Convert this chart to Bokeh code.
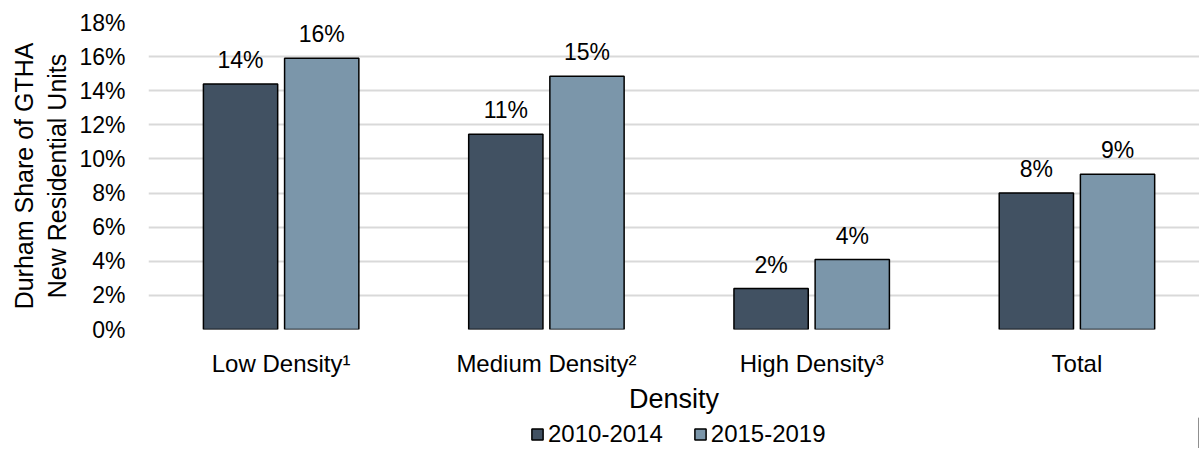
from bokeh.plotting import figure
from bokeh.layouts import column
from bokeh.models import (ColumnDataSource, Range1d, FixedTicker, PrintfTickFormatter,
                          Legend, LegendItem)
from bokeh.core.properties import value
from bokeh.embed import file_html
from bokeh.resources import INLINE

categories = ["Low Density\u00b9", "Medium Density\u00b2", "High Density\u00b3", "Total"]
series_names = ["2010-2014", "2015-2019"]
share_2010_2014 = [14.4, 11.45, 2.4, 8.0]
share_2015_2019 = [15.9, 14.85, 4.1, 9.1]
y_ticks = [0, 2, 4, 6, 8, 10, 12, 14, 16, 18]

FONT = "Liberation Sans"
DARK = "#415162"
LIGHT = "#7b96aa"

centers = [i + 0.5 for i in range(len(categories))]
off = 0.153
bw = 0.28

src1 = ColumnDataSource(dict(x=[c - off for c in centers], top=share_2010_2014,
                             lab=[f"{round(v):d}%" for v in share_2010_2014]))
src2 = ColumnDataSource(dict(x=[c + off for c in centers], top=share_2015_2019,
                             lab=[f"{round(v):d}%" for v in share_2015_2019]))

p = figure(width=1199, height=417, output_backend="svg", toolbar_location=None,
           x_range=Range1d(0.0, 3.962), y_range=Range1d(0, 18),
           min_border_left=148, min_border_right=0, min_border_top=22,
           min_border_bottom=88)
p.outline_line_color = None
p.background_fill_color = "white"

r1 = p.vbar(x="x", top="top", width=bw, source=src1, fill_color=DARK,
            line_color="black", line_width=1.5)
r2 = p.vbar(x="x", top="top", width=bw, source=src2, fill_color=LIGHT,
            line_color="black", line_width=1.5)

for s in (src1, src2):
    p.text(x="x", y="top", text="lab", source=s, text_align="center",
           text_baseline="alphabetic", y_offset=-24, text_font=value(FONT),
           text_font_size="23px", text_color="black")

# x axis
p.xaxis.ticker = FixedTicker(ticks=centers)
p.xaxis.major_label_overrides = {c: lab for c, lab in zip(centers, categories)}
p.xaxis.axis_line_color = None
p.xaxis.major_tick_line_color = None
p.xaxis.minor_tick_line_color = None
p.xaxis.major_label_standoff = 14
p.xaxis.major_label_text_font = FONT
p.xaxis.major_label_text_font_size = "24px"
p.xaxis.major_label_text_color = "black"
p.xaxis.axis_label = "Density"
p.xaxis.axis_label_text_font = FONT
p.xaxis.axis_label_text_font_size = "27px"
p.xaxis.axis_label_text_font_style = "normal"
p.xaxis.axis_label_text_color = "black"
p.xaxis.axis_label_standoff = 4

# y axis
p.yaxis.ticker = FixedTicker(ticks=y_ticks)
p.yaxis.formatter = PrintfTickFormatter(format="%d%%")
p.yaxis.axis_line_color = None
p.yaxis.major_tick_line_color = None
p.yaxis.minor_tick_line_color = None
p.yaxis.major_tick_out = 0
p.yaxis.major_label_standoff = 23
p.yaxis.major_label_text_font = FONT
p.yaxis.major_label_text_font_size = "23px"
p.yaxis.major_label_text_color = "black"
p.yaxis.axis_label = "Durham Share of GTHA\nNew Residential Units"
p.yaxis.axis_label_text_font = FONT
p.yaxis.axis_label_text_font_size = "25px"
p.yaxis.axis_label_text_font_style = "normal"
p.yaxis.axis_label_text_color = "black"
p.yaxis.axis_label_standoff = 5

p.xgrid.grid_line_color = None
p.ygrid.grid_line_color = "#d9d9d9"
p.ygrid.grid_line_width = 2

# legend strip below the chart
lf = figure(width=1199, height=31, output_backend="svg", toolbar_location=None,
            x_range=Range1d(0, 1), y_range=Range1d(0, 1),
            min_border=0, x_axis_type=None, y_axis_type=None)
lf.outline_line_color = None
lf.xgrid.grid_line_color = None
lf.ygrid.grid_line_color = None
d1 = lf.vbar(x="x", top="top", width=0.1, source=ColumnDataSource(dict(x=[5], top=[1])),
             fill_color=DARK, line_color="black", line_width=1.5)
d2 = lf.vbar(x="x", top="top", width=0.1, source=ColumnDataSource(dict(x=[5], top=[1])),
             fill_color=LIGHT, line_color="black", line_width=1.5)
legend = Legend(items=[LegendItem(label=series_names[0], renderers=[d1]),
                       LegendItem(label=series_names[1], renderers=[d2])],
                orientation="horizontal", location=(382, 0),
                label_text_font=FONT, label_text_font_size="24px",
                label_text_color="black", glyph_width=14, glyph_height=14,
                label_standoff=4, spacing=30, padding=0, margin=0,
                border_line_color=None, background_fill_alpha=0)
lf.add_layout(legend)

open("out.html", "w").write(file_html(column(p, lf, spacing=0), INLINE))
